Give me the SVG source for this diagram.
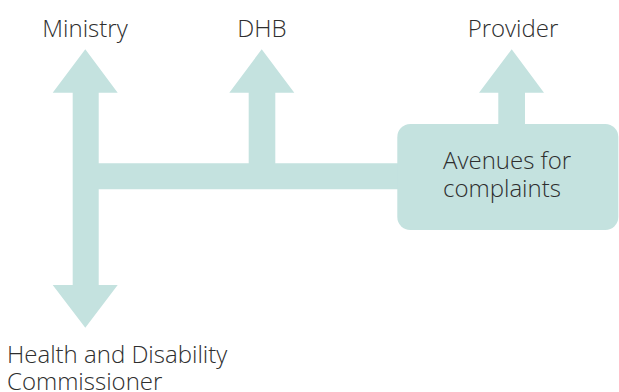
<svg xmlns="http://www.w3.org/2000/svg" width="619" height="392" viewBox="0 0 619 392">
<style>
.f{fill:#c4e2df}
.t{font-family:"Open Sans","Noto Sans",sans-serif;font-size:24px;font-weight:300;fill:#2e2e2e}
</style>
<rect width="619" height="392" fill="#ffffff"/>
<g id="connectors">
<path class="f" d="M72.7,92.7 H52.7 L85.3,49.3 L117.7,92.7 H98.7 V163.3 H248.7 V92.7 H229.3 L261.7,49.3 L294.3,92.7 H275.3 V163.3 H400 V189.3 H98.7 V285 H117.7 L85.3,327.7 L52.7,285 H72.7 Z"/>
<path class="f" d="M498.3,130 V92.7 H479 L511.7,49.3 L544,92.7 H525 V130 Z"/>
</g>
<g id="avenues">
<rect class="f" x="397.3" y="124" width="221" height="106" rx="13"/>
<text class="t" x="443" y="168.5">Avenues for</text>
<text class="t" x="443" y="196.5">complaints</text>
</g>
<g id="ministry"><text class="t" x="85" y="37" text-anchor="middle">Ministry</text></g>
<g id="dhb"><text class="t" x="262" y="37" text-anchor="middle">DHB</text></g>
<g id="provider"><text class="t" x="513" y="37" text-anchor="middle">Provider</text></g>
<g id="hdc">
<text class="t" x="7" y="362.5">Health and Disability</text>
<text class="t" x="7" y="389.5">Commissioner</text>
</g>
</svg>
